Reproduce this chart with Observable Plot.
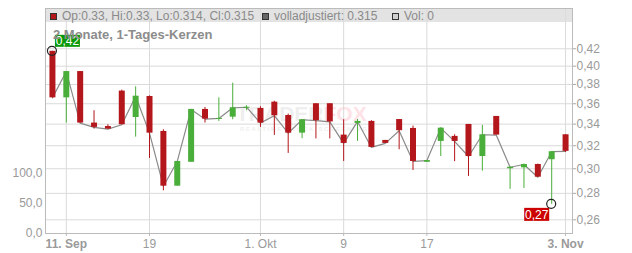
<!DOCTYPE html>
<html>
<head>
<meta charset="utf-8">
<script src="https://cdn.jsdelivr.net/npm/d3@7"></script>
<script src="https://cdn.jsdelivr.net/npm/@observablehq/plot@0.6"></script>
<style>
  html, body { margin: 0; padding: 0; background: #fff; }
  #wrap { position: relative; width: 632px; height: 253px; overflow: hidden;
          font-family: "Liberation Sans", Arial, sans-serif; }
  #wrap > div { position: absolute; left: 0; top: 0; }
  #band { left: 45px !important; top: 8px !important; width: 527px; height: 14px; background: #e3e3e3; }
  #wm { left: 236px !important; top: 103px !important; font-weight: bold; font-size: 21px; line-height: 21px; white-space: nowrap; }
  #wm .t { color: #eeeeee; } #wm .f { color: #fde3e7; }
  #wm2 { left: 240px !important; top: 126px !important; font-size: 6px; line-height: 6px; letter-spacing: 1.6px; color: #efefef; font-weight: bold; white-space: nowrap; }
  #legend { top: 10px !important; font-size: 12px; line-height: 12px; color: #8a8a8a; white-space: nowrap; width: 632px; height: 14px; }
  #legend span { position: absolute; top: 0; }
  #legend i { position: absolute; top: 3px; width: 5px; height: 5px; border: 1px solid #333; }
  #title { left: 53px !important; top: 27.5px !important; font-size: 13px; line-height: 13px; font-weight: bold; color: #8c8c8c; white-space: nowrap; }
</style>
</head>
<body>
<div id="wrap">
  <div id="band"></div>
  <div id="wm"><span class="t">TRADER</span><span class="f">FOX</span></div>
  <div id="wm2">REALTIME STOCK SCREENING</div>
  <div id="price"></div>
  <div id="vol"></div>
  <div id="legend">
    <i style="left:50px;background:#b3161b;"></i><span style="left:62px;">Op:0.33, Hi:0.33, Lo:0.314, Cl:0.315</span>
    <i style="left:262px;background:#666;"></i><span style="left:274px;">volladjustiert: 0.315</span>
    <i style="left:392px;background:#d0d0d0;"></i><span style="left:404px;">Vol: 0</span>
  </div>
  <div id="title">2 Monate, 1-Tages-Kerzen</div>
</div>
<script>
// ---- data (daily candles, trading-day index 0..37) ----
const open  = [0.417,0.366,0.394,0.341,0.3377,0.373,0.3464,0.3674,0.3331,0.2857,0.3055,0.3543,0.3445,0.3467,0.3555,0.3553,0.3616,0.3483,0.3315,0.36,0.36,0.3297,0.3407,0.3426,0.3248,0.3444,0.3359,0.3055,0.3239,0.3285,0.3397,0.3105,0.3474,0.30,0.3008,0.3036,0.3077,0.33];
const high  = [0.417,0.394,0.394,0.353,0.3394,0.374,0.3775,0.368,0.3347,0.3062,0.3543,0.3563,0.366,0.3814,0.358,0.357,0.3626,0.3497,0.3442,0.36,0.36,0.3442,0.3444,0.3433,0.3248,0.3444,0.3381,0.307,0.3365,0.33,0.3397,0.3388,0.3474,0.3013,0.304,0.304,0.3147,0.33];
const low   = [0.366,0.341,0.341,0.3353,0.335,0.3394,0.3278,0.3088,0.282,0.2857,0.3055,0.341,0.3426,0.3442,0.353,0.3369,0.3294,0.3132,0.3264,0.3262,0.3262,0.3062,0.3239,0.3185,0.3221,0.3164,0.2986,0.3055,0.3105,0.306,0.2936,0.298,0.3297,0.2832,0.2839,0.293,0.2715,0.314];
const close = [0.366,0.394,0.341,0.3369,0.3353,0.3394,0.3677,0.3315,0.2857,0.3062,0.3543,0.3448,0.3455,0.356,0.3565,0.341,0.3481,0.3315,0.3442,0.3433,0.3421,0.3221,0.3426,0.3185,0.3221,0.3338,0.3062,0.307,0.3362,0.3239,0.3105,0.33,0.3297,0.3013,0.3036,0.293,0.3147,0.315];

const tickIdx    = [1, 7, 15, 21, 27, 37];
const tickLabels = ["11. Sep", "19", "1. Okt", "9", "17", "3. Nov"];
const boldTicks  = ["11. Sep", "3. Nov"];
const priceTicks = [0.26, 0.28, 0.30, 0.32, 0.34, 0.36, 0.38, 0.40, 0.42];
const volTicks   = [0, 50, 100];

// ---- build ----
const UP = "#4aae3a", DOWN = "#b3161b";
const data = open.map((o, i) => ({i, open: o, high: high[i], low: low[i], close: close[i]}));
const col = d => d.close >= d.open ? UP : DOWN;
const labelOf = new Map(tickIdx.map((t, k) => [t, tickLabels[k]]));
const commaFmt = f => d => d3.format(f)(d).replace(".", ",");
const fmtP = commaFmt(".2f");
const hiI = d3.maxIndex(high), loI = d3.minIndex(low);

const font = '"Liberation Sans", Arial, sans-serif';
const common = {width: 632, height: 253, marginLeft: 45, marginRight: 60, marginTop: 8, marginBottom: 20};

function annotations(index, scales) {
  const g = d3.create("svg:g");
  const items = [
    {i: hiI, v: high[hiI], fill: "#0a990a", dx: 3, dy: -16, h: 12},
    {i: loI, v: low[loI], fill: "#cc0000", dx: -27, dy: 4, h: 13}
  ];
  for (const a of items) {
    const px = scales.x(a.i), py = scales.y(a.v);
    g.append("rect").attr("x", px + a.dx).attr("y", py + a.dy).attr("width", 25).attr("height", a.h).attr("fill", a.fill);
    g.append("text").attr("x", px + a.dx + 12.5).attr("y", py + a.dy + a.h / 2)
      .attr("dy", "0.36em").attr("text-anchor", "middle").attr("fill", "#fff")
      .attr("font-size", 12).attr("font-family", font).text(fmtP(a.v));
    g.append("circle").attr("cx", px).attr("cy", py).attr("r", 4.5)
      .attr("fill", "none").attr("stroke", "#222").attr("stroke-width", 1.2);
  }
  return g.node();
}

const price = Plot.plot({
  ...common,
  style: {background: "transparent", fontFamily: font, fontSize: "12px", color: "#999"},
  x: {type: "linear", domain: [-0.5, open.length - 0.5]},
  y: {type: "log", domain: [0.2502, 0.4702]},
  marks: [
    Plot.gridY(priceTicks, {stroke: "#dadada", strokeOpacity: 1}),
    Plot.gridX(tickIdx, {stroke: "#dadada", strokeOpacity: 1}),
    Plot.frame({stroke: "#bbbbbb"}),
    Plot.axisY(priceTicks, {anchor: "right", tickFormat: fmtP, tickSize: 3, tickPadding: 1, stroke: "#aaa", fill: "#9a9a9a", label: null}),
    Plot.axisX(tickIdx.filter(t => boldTicks.includes(labelOf.get(t))), {tickFormat: t => labelOf.get(t), tickSize: 3, tickPadding: 3, stroke: "#bbb", fill: "#9a9a9a", fontWeight: "bold", label: null}),
    Plot.axisX(tickIdx.filter(t => !boldTicks.includes(labelOf.get(t))), {tickFormat: t => labelOf.get(t), tickSize: 3, tickPadding: 3, stroke: "#bbb", fill: "#9a9a9a", label: null}),
    Plot.line(data, {x: "i", y: "close", stroke: "#8a8a8a", strokeWidth: 1.2}),
    Plot.ruleX(data, {x: "i", y1: "low", y2: "high", stroke: col, strokeWidth: 1}),
    Plot.ruleX(data, {x: "i", y1: "open", y2: "close", stroke: col, strokeWidth: 6}),
    annotations
  ]
});
document.getElementById("price").appendChild(price);

const vol = Plot.plot({
  ...common,
  style: {background: "transparent", fontFamily: font, fontSize: "12px", color: "#999"},
  x: {domain: [0, 1], axis: null},
  y: {domain: [0, 372], axis: null},
  marks: [
    Plot.axisY(volTicks, {anchor: "left", tickFormat: commaFmt(".1f"), tickSize: 0, tickPadding: 3, fill: "#9a9a9a", label: null})
  ]
});
document.getElementById("vol").appendChild(vol);
</script>
</body>
</html>
